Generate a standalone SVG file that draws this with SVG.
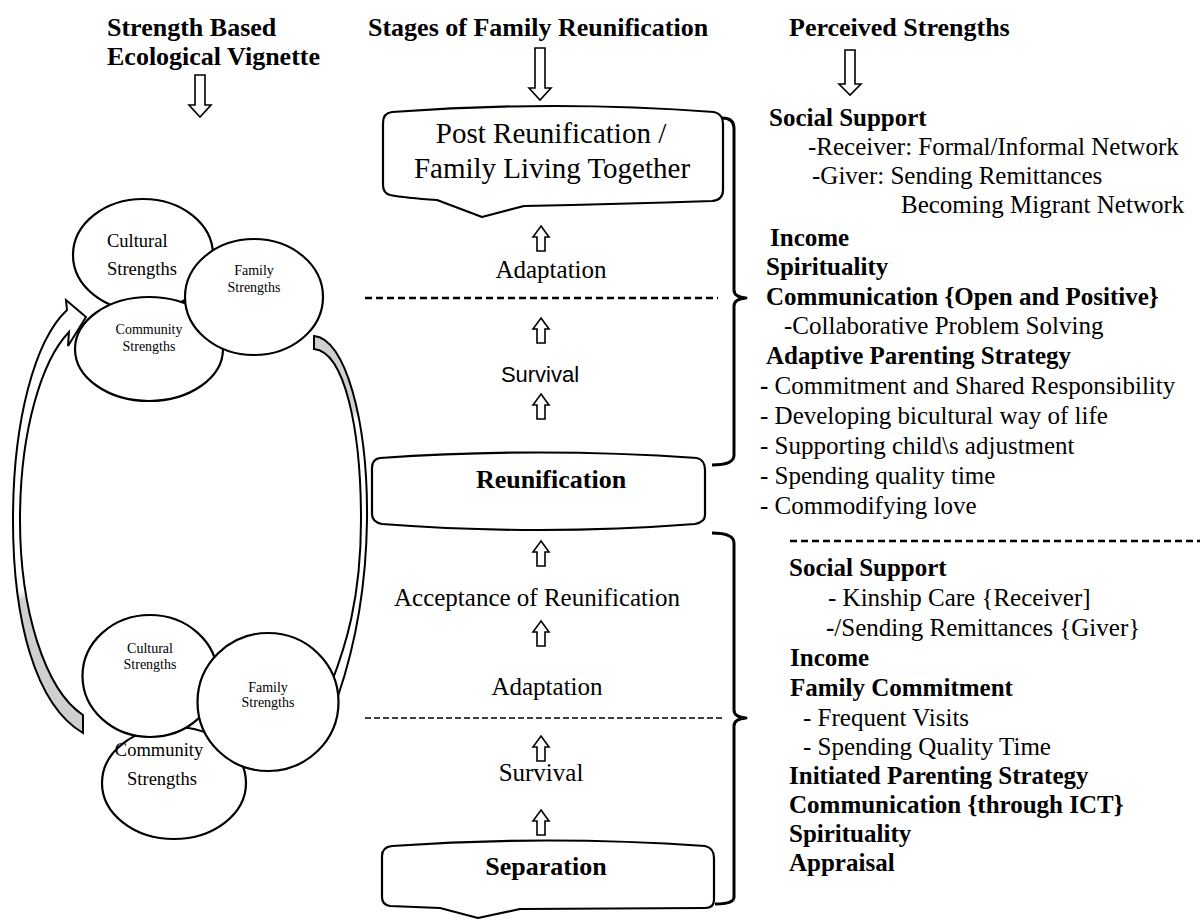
<svg xmlns="http://www.w3.org/2000/svg" width="1200" height="922" viewBox="0 0 1200 922">
<style>
.t{font-family:"Liberation Serif","Times New Roman",serif;fill:#000}
.b{font-weight:bold}
.s{font-family:"Liberation Sans",Arial,sans-serif;fill:#000}
.h{font-size:26px;font-weight:bold}
.r{font-size:25px}
.sh{fill:#fff;stroke:#000;stroke-width:2.2;stroke-linejoin:round}
.ar{fill:#fff;stroke:#000;stroke-width:1.6;stroke-linejoin:miter}
.br{fill:none;stroke:#000;stroke-width:3;stroke-linejoin:round}
.el{fill:#fff;stroke:#000;stroke-width:2.2}
</style>
<defs>
<path id="up" d="M0,0 L8,11 L4,11 L4,25 L-4,25 L-4,11 L-8,11 Z"/>
<linearGradient id="gL" gradientUnits="userSpaceOnUse" x1="0" y1="590" x2="0" y2="600">
<stop offset="0" stop-color="#fff"/><stop offset="1" stop-color="#cfcfcf"/>
</linearGradient>
<linearGradient id="gR" gradientUnits="userSpaceOnUse" x1="0" y1="410" x2="0" y2="420">
<stop offset="0" stop-color="#cfcfcf"/><stop offset="1" stop-color="#fff"/>
</linearGradient>
</defs>

<g id="headers">
<text class="t h" x="107" y="36">Strength Based</text>
<text class="t h" x="107" y="65">Ecological Vignette</text>
<text class="t h" x="368" y="36">Stages of Family Reunification</text>
<text class="t h" x="789" y="36">Perceived Strengths</text>
</g>

<g id="connectors">
<path class="ar" d="M195,75 L205,75 L205,105 L211,105 L200,117 L189,105 L195,105 Z"/>
<path class="ar" d="M535,48 L545,48 L545,88 L551,88 L540,100 L529,88 L535,88 Z"/>
<path class="ar" d="M845,50 L855,50 L855,84 L861,84 L850,95 L839,84 L845,84 Z"/>
<use href="#up" x="541" y="226" class="ar"/>
<use href="#up" x="541" y="318" class="ar"/>
<use href="#up" x="541" y="394" class="ar"/>
<use href="#up" x="541" y="541" class="ar"/>
<use href="#up" x="541" y="621" class="ar"/>
<use href="#up" x="541" y="736" class="ar"/>
<use href="#up" x="541" y="810" class="ar"/>
<line x1="365" y1="298" x2="718" y2="298" stroke="#000" stroke-width="2.5" stroke-dasharray="7 4"/>
<line x1="365" y1="718" x2="725" y2="718" stroke="#000" stroke-width="1.3" stroke-dasharray="6 3"/>
<line x1="790" y1="541" x2="1200" y2="541" stroke="#000" stroke-width="2.5" stroke-dasharray="7 4"/>
<path class="br" d="M722,118 Q734,118 734,128 L734,290 Q734,297 746,298 Q734,299 734,306 L734,455 Q734,465 712,465"/>
<path class="br" d="M712,533 Q734,533 734,543 L734,710 Q734,717 746,718 Q734,719 734,726 L734,897 Q734,904 715,904"/>
<path d="M86,317 L66,300 L67,310 C35,340 13,420 13,520 C13,620 35,705 83,733 L83,715 C45,690 20,610 20,520 C20,430 42,360 69,332 L68,346 Z" fill="url(#gL)" stroke="#000" stroke-width="2"/>
<path d="M314,336 C345,338 368,420 367,520 C366,600 352,655 338,696 L329,705 L315,697 L328,676 L331,684 C345,648 361,600 361,520 C361,430 345,352 314,349 Z" fill="url(#gR)" stroke="#000" stroke-width="2"/>
</g>

<g id="cluster-top">
<ellipse class="el" cx="143" cy="255" rx="70" ry="56"/>
<ellipse class="el" cx="149" cy="349" rx="74" ry="52"/>
<ellipse class="el" cx="254" cy="297" rx="69" ry="58"/>
<text class="t" font-size="18.5" x="107" y="247">Cultural</text>
<text class="t" font-size="18.5" x="107" y="275">Strengths</text>
<text class="t" font-size="14" x="254" y="275" text-anchor="middle">Family</text>
<text class="t" font-size="14" x="254" y="292" text-anchor="middle">Strengths</text>
<text class="t" font-size="14" x="149" y="334" text-anchor="middle">Community</text>
<text class="t" font-size="14" x="149" y="351" text-anchor="middle">Strengths</text>
</g>

<g id="cluster-bottom">
<ellipse class="el" cx="174" cy="783" rx="72" ry="56"/>
<ellipse class="el" cx="150" cy="676" rx="67.5" ry="61"/>
<ellipse class="el" cx="268" cy="702" rx="70.5" ry="69"/>
<text class="t" font-size="14" x="150" y="653" text-anchor="middle">Cultural</text>
<text class="t" font-size="14" x="150" y="669" text-anchor="middle">Strengths</text>
<text class="t" font-size="14" x="268" y="692" text-anchor="middle">Family</text>
<text class="t" font-size="14" x="268" y="707" text-anchor="middle">Strengths</text>
<text class="t" font-size="18.5" x="159" y="756" text-anchor="middle">Community</text>
<text class="t" font-size="18.5" x="162" y="785" text-anchor="middle">Strengths</text>
</g>

<g id="post-reunification">
<path class="sh" d="M392,112 Q555,100 714,112 Q723,114 723,124 L723,190 Q723,200 712,201 Q620,204 524,206 L482,217 L437,200 Q405,198 390,195 Q383,193 383,185 L383,123 Q383,113 392,112 Z"/>
<text class="t" font-size="29" x="551" y="143" text-anchor="middle">Post Reunification /</text>
<text class="t" font-size="29" x="552" y="178" text-anchor="middle">Family Living Together</text>
</g>

<g id="stage-labels">
<text class="t r" x="551" y="278" text-anchor="middle">Adaptation</text>
<text class="s" font-size="22" x="540" y="382" text-anchor="middle">Survival</text>
<text class="t r" x="537" y="606" text-anchor="middle">Acceptance of Reunification</text>
<text class="t r" x="547" y="695" text-anchor="middle">Adaptation</text>
<text class="t r" x="541" y="781" text-anchor="middle">Survival</text>
</g>

<g id="reunification">
<path class="sh" d="M380,458 Q540,447 697,458 Q705,460 705,470 L705,515 Q705,522 695,524 Q540,536 382,524 Q372,522 372,514 L372,468 Q372,459 380,458 Z"/>
<text class="t b" font-size="26" x="551" y="488" text-anchor="middle">Reunification</text>
</g>

<g id="separation">
<path class="sh" d="M392,846 Q548,835 705,846 Q714,848 714,858 L714,900 Q714,908 705,908 L520,909 L478,918 L440,908 L390,906 Q382,905 382,897 L382,856 Q382,847 392,846 Z"/>
<text class="t b" font-size="26" x="546" y="875" text-anchor="middle">Separation</text>
</g>

<g id="strengths-reunified">
<text class="t r b" x="769" y="126">Social Support</text>
<text class="t r" x="808" y="155">-Receiver: Formal/Informal Network</text>
<text class="t r" x="812" y="184">-Giver: Sending Remittances</text>
<text class="t r" x="901" y="213">Becoming Migrant Network</text>
<text class="t r b" x="770" y="246">Income</text>
<text class="t r b" x="766" y="275">Spirituality</text>
<text class="t r b" x="766" y="305">Communication {Open and Positive}</text>
<text class="t r" x="784" y="334">-Collaborative Problem Solving</text>
<text class="t r b" x="766" y="364">Adaptive Parenting Strategy</text>
<text class="t r" x="760" y="394"><tspan font-weight="bold">-</tspan> Commitment and Shared Responsibility</text>
<text class="t r" x="760" y="424">- Developing bicultural way of life</text>
<text class="t r" x="760" y="454">- Supporting child\s adjustment</text>
<text class="t r" x="760" y="484">- Spending quality time</text>
<text class="t r" x="760" y="514">- Commodifying love</text>
</g>

<g id="strengths-separated">
<text class="t r b" x="789" y="576">Social Support</text>
<text class="t r" x="828" y="606">- Kinship Care {Receiver]</text>
<text class="t r" x="826" y="636"><tspan font-weight="bold">-</tspan>/Sending Remittances {Giver}</text>
<text class="t r b" x="790" y="666">Income</text>
<text class="t r b" x="790" y="696">Family Commitment</text>
<text class="t r" x="803" y="726">- Frequent Visits</text>
<text class="t r" x="803" y="755">- Spending Quality Time</text>
<text class="t r b" x="789" y="784">Initiated Parenting Strategy</text>
<text class="t r b" x="789" y="813">Communication {through ICT}</text>
<text class="t r b" x="789" y="842">Spirituality</text>
<text class="t r b" x="789" y="871">Appraisal</text>
</g>
</svg>
